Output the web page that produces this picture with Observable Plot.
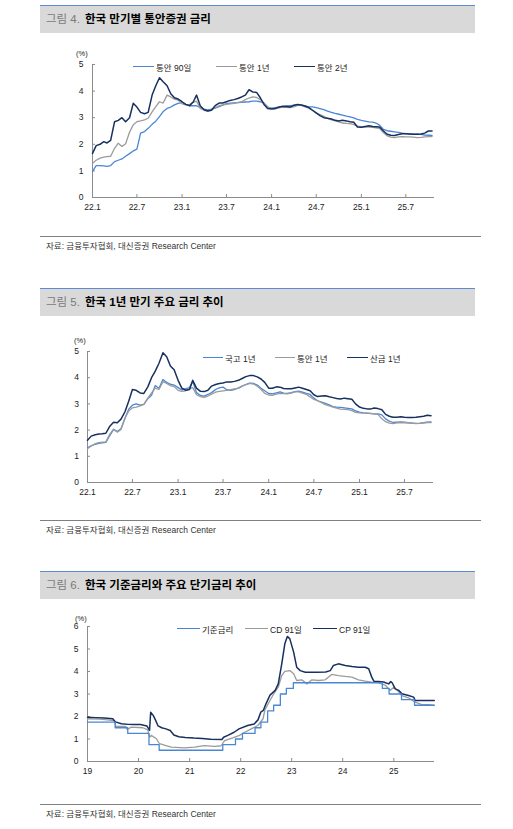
<!DOCTYPE html>
<html><head><meta charset="utf-8">
<script src="https://cdn.jsdelivr.net/npm/d3@7"></script>
<script src="https://cdn.jsdelivr.net/npm/@observablehq/plot@0.6"></script>
<style>
body{margin:0;background:#fff;width:513px;height:829px;position:relative;overflow:hidden;font-family:"Liberation Sans","Noto Sans CJK KR",sans-serif;}
.bar{position:absolute;left:40px;width:435px;height:27px;background:#d9d9d9;border-top:1px solid #5b8bd0;line-height:27px;font-size:11.5px;white-space:nowrap;}
.bar .n{color:#7a7a7a;padding-left:6px;margin-right:5px;}
.bar .t{color:#000;font-weight:bold;}
.src{position:absolute;left:40px;width:435px;border-top:1px solid #7f7f7f;font-size:8.5px;color:#333;padding-left:6px;padding-top:2px;white-space:nowrap;}
.lg{position:absolute;font-size:8.5px;color:#222;white-space:nowrap;transform:translateY(-50%);}
.sw{position:absolute;height:0;}
.unit{position:absolute;font-size:7.5px;color:#222;transform:translateY(-50%);}
</style></head><body>
<script>
// ---------- Data ----------
// Chart 1 & 2: semi-monthly samples from 2022-01-01 (1st and 16th of each month)
const mmb90 = [0.98,1.2,1.2,1.19,1.17,1.2,1.35,1.4,1.45,1.55,1.65,1.75,
  1.82,2.42,2.48,2.6,2.75,2.87,3.04,3.23,3.35,3.4,3.48,3.54,
  3.57,3.5,3.45,3.45,3.45,3.38,3.32,3.29,3.32,3.36,3.42,3.47,
  3.53,3.55,3.56,3.57,3.58,3.59,3.6,3.62,3.62,3.6,3.55,3.4,
  3.36,3.38,3.4,3.42,3.44,3.45,3.46,3.47,3.47,3.44,3.41,3.41,
  3.38,3.34,3.3,3.25,3.2,3.16,3.13,3.1,3.06,3.03,2.99,2.94,
  2.9,2.87,2.84,2.83,2.8,2.72,2.56,2.51,2.49,2.47,2.45,2.42,
  2.4,2.39,2.38,2.38,2.37,2.35,2.34,2.33];
const mmb1y = [1.29,1.4,1.48,1.52,1.54,1.55,1.85,2.04,1.92,2.02,2.45,2.73,
  2.85,2.88,2.92,2.98,3.22,3.42,3.6,3.55,3.85,3.78,3.7,3.66,
  3.52,3.48,3.5,3.58,3.62,3.35,3.28,3.25,3.3,3.37,3.45,3.48,
  3.5,3.52,3.54,3.57,3.6,3.68,3.74,3.78,3.76,3.68,3.55,3.4,
  3.34,3.33,3.37,3.4,3.39,3.38,3.41,3.46,3.46,3.41,3.36,3.27,
  3.17,3.12,3.05,2.97,2.92,2.88,2.84,2.8,2.79,2.78,2.74,2.68,
  2.66,2.65,2.65,2.64,2.62,2.6,2.43,2.32,2.27,2.25,2.28,2.29,
  2.28,2.28,2.27,2.25,2.26,2.28,2.29,2.29];
const mmb2y = [1.66,1.95,2.0,2.1,2.05,2.15,2.85,2.9,3.0,2.85,3.0,3.54,
  3.4,3.2,3.15,3.2,3.85,4.2,4.5,4.35,4.2,3.9,3.75,3.7,
  3.6,3.5,3.45,3.6,3.85,3.45,3.3,3.25,3.28,3.45,3.55,3.55,
  3.6,3.65,3.68,3.72,3.78,3.85,4.05,3.97,3.95,3.75,3.5,3.35,
  3.33,3.35,3.4,3.43,3.42,3.4,3.47,3.5,3.48,3.44,3.38,3.28,
  3.18,3.08,3.0,2.98,2.95,2.9,2.88,2.9,2.88,2.85,2.83,2.65,
  2.64,2.67,2.7,2.67,2.66,2.65,2.5,2.38,2.34,2.33,2.37,2.4,
  2.4,2.39,2.38,2.38,2.39,2.42,2.5,2.5];
const ktb1y = [1.32,1.4,1.46,1.49,1.51,1.53,1.8,2.02,1.95,2.05,2.45,2.8,
  2.95,3.0,2.95,2.98,3.2,3.33,3.7,3.6,3.93,3.82,3.75,3.72,
  3.62,3.53,3.58,3.62,3.86,3.43,3.32,3.3,3.36,3.43,3.55,3.61,
  3.64,3.54,3.52,3.55,3.6,3.68,3.74,3.79,3.78,3.72,3.6,3.5,
  3.4,3.38,3.42,3.46,3.41,3.4,3.43,3.47,3.49,3.45,3.4,3.36,
  3.22,3.12,3.07,3.02,2.96,2.9,2.88,2.87,2.85,2.83,2.81,2.73,
  2.69,2.66,2.65,2.63,2.62,2.62,2.58,2.43,2.34,2.29,2.3,2.31,
  2.3,2.28,2.27,2.26,2.26,2.28,2.3,2.31];
const kdb1y = [1.61,1.77,1.82,1.85,1.86,1.88,2.15,2.3,2.28,2.42,2.7,3.1,
  3.55,3.52,3.42,3.4,3.65,4.0,4.25,4.55,4.95,4.8,4.45,4.3,
  3.9,3.6,3.52,3.55,3.9,3.6,3.48,3.47,3.52,3.68,3.74,3.78,
  3.8,3.84,3.84,3.86,3.9,3.97,4.04,4.08,4.08,4.03,3.95,3.82,
  3.6,3.6,3.65,3.64,3.59,3.58,3.58,3.61,3.64,3.6,3.55,3.5,
  3.35,3.28,3.3,3.31,3.27,3.24,3.21,3.19,3.22,3.2,3.18,3.0,
  2.88,2.83,2.81,2.81,2.84,2.82,2.78,2.6,2.53,2.49,2.49,2.51,
  2.49,2.48,2.48,2.49,2.51,2.53,2.57,2.55];

// Chart 3
const baseDates = ["2019-01-01","2019-07-18","2019-10-16","2020-03-16","2020-05-28","2021-08-26","2021-11-25","2022-01-14","2022-04-14","2022-05-26","2022-07-13","2022-08-25","2022-10-12","2022-11-24","2023-01-13","2024-10-11","2024-11-28","2025-02-25","2025-05-29","2025-10-17"];
const baseRate = [1.75,1.5,1.25,0.75,0.5,0.75,1.0,1.25,1.5,1.75,2.25,2.5,3.0,3.25,3.5,3.25,3.0,2.75,2.5,2.5];
const cdDates = ["2019-01-01","2019-04-01","2019-07-12","2019-07-22","2019-10-01","2019-10-12","2019-11-10","2020-02-01","2020-03-07","2020-03-21","2020-04-01","2020-05-08","2020-05-30","2020-07-16","2020-08-22","2020-11-25","2021-02-06","2021-04-15","2021-06-28","2021-08-14","2021-09-08","2021-11-06","2021-12-24","2022-01-30","2022-03-18","2022-05-04","2022-06-10","2022-06-24","2022-07-20","2022-08-25","2022-09-27","2022-10-22","2022-11-13","2022-12-19","2023-01-15","2023-02-06","2023-03-14","2023-04-20","2023-05-26","2023-07-12","2023-08-28","2023-10-15","2023-12-01","2024-01-19","2024-03-07","2024-04-23","2024-06-10","2024-07-27","2024-09-13","2024-11-03","2024-12-05","2025-01-01","2025-01-26","2025-02-28","2025-04-16","2025-06-03","2025-07-20","2025-09-05","2025-10-17"];
const cd91 = [1.9,1.88,1.82,1.56,1.56,1.42,1.53,1.5,1.41,1.08,1.16,1.01,0.79,0.71,0.64,0.61,0.64,0.71,0.67,0.7,0.93,1.05,1.16,1.3,1.45,1.6,1.9,2.3,2.6,3.0,3.3,3.82,4.01,4.04,3.9,3.6,3.63,3.45,3.63,3.6,3.63,3.87,3.82,3.78,3.75,3.63,3.57,3.53,3.51,3.38,3.16,3.3,3.16,2.93,2.83,2.64,2.53,2.53,2.49];
const cpDates = ["2019-01-01","2019-03-01","2019-05-01","2019-07-01","2019-07-20","2019-09-01","2019-10-20","2019-12-01","2020-01-15","2020-03-01","2020-03-20","2020-03-28","2020-04-15","2020-05-01","2020-05-20","2020-06-15","2020-07-15","2020-08-15","2020-09-10","2020-10-15","2020-12-01","2021-02-01","2021-04-01","2021-06-01","2021-08-20","2021-09-01","2021-10-01","2021-11-15","2021-12-20","2022-02-20","2022-04-08","2022-05-05","2022-05-25","2022-06-12","2022-07-01","2022-07-30","2022-09-05","2022-09-27","2022-10-22","2022-11-13","2022-12-01","2022-12-19","2023-01-15","2023-02-06","2023-03-03","2023-04-08","2023-07-01","2023-09-01","2023-10-04","2023-10-27","2023-12-01","2024-01-19","2024-03-07","2024-04-23","2024-06-10","2024-07-05","2024-07-27","2024-08-11","2024-09-13","2024-10-19","2024-11-25","2024-12-10","2024-12-20","2025-01-11","2025-02-06","2025-02-28","2025-04-16","2025-05-23","2025-06-03","2025-10-17"];
const cp91 = [1.97,1.95,1.93,1.9,1.76,1.68,1.65,1.64,1.64,1.58,1.38,2.19,2.05,1.85,1.58,1.5,1.45,1.38,1.18,1.1,1.07,1.04,1.02,0.99,0.98,1.08,1.16,1.3,1.45,1.6,1.67,1.85,2.19,2.27,2.56,2.95,3.16,3.45,4.34,5.23,5.56,5.45,4.86,4.19,4.04,3.97,3.97,3.98,4.04,4.27,4.34,4.27,4.22,4.19,4.19,4.12,3.75,3.57,3.56,3.53,3.45,3.55,3.5,3.23,3.16,3.01,2.93,2.86,2.71,2.71];

const ticks1 = ["2022-01-01","2022-07-01","2023-01-01","2023-07-01","2024-01-01","2024-07-01","2025-01-01","2025-07-01"];
const ticks3 = ["2019-01-01","2020-01-01","2021-01-01","2022-01-01","2023-01-01","2024-01-01","2025-01-01"];

const C_BLUE = "#4a86d6", C_GRAY = "#9b9b9b", C_NAVY = "#17305e";
const FONT = '"Liberation Sans","Noto Sans CJK KR",sans-serif';

// semi-monthly date grid (x categories) for charts 1 & 2
const grid = mmb90.map((_, i) => new Date(Date.UTC(2022, Math.floor(i / 2), i % 2 ? 16 : 1)));
const toRows = (dates, vals) => vals.map((v, i) => ({date: dates[i] instanceof Date ? dates[i] : new Date(dates[i]), v}));

function chart(o) {
  const mt = o.fTop - o.svgTop, mb = 24;
  const h = mt + (o.fBottom - o.fTop) + mb;
  const xd = o.xDomain.map(d => new Date(d));
  const p = Plot.plot({
    width: 513, height: h,
    marginLeft: o.fLeft, marginRight: 513 - o.fRight, marginTop: mt, marginBottom: mb,
    style: {fontFamily: FONT, fontSize: "8.5px", color: "#222", background: "transparent", overflow: "visible"},
    x: {type: "utc", domain: xd},
    y: {domain: o.yDomain},
    marks: [
      Plot.ruleY([o.yDomain[0]], {stroke: "#8c8c8c"}),
      Plot.ruleX([xd[0]], {stroke: "#8c8c8c"}),
      Plot.axisY({ticks: d3.range(o.yDomain[0], o.yDomain[1] + 1), tickFormat: d => String(d), tickSize: -3, tickPadding: o.yPad + 3, stroke: "#8c8c8c", label: null}),
      Plot.axisX({ticks: o.xTicks.map(d => new Date(d)), tickFormat: o.xFormat, tickSize: -3, tickPadding: 9, stroke: "#8c8c8c", label: null}),
      ...o.series.map(s => Plot.line(s.rows, {x: "date", y: "v", stroke: s.color, strokeWidth: s.w || 1.3, curve: s.curve || "linear"}))
    ]
  });
  p.style.position = "absolute"; p.style.left = "0px"; p.style.top = o.svgTop + "px";
  document.body.append(p);
}

function header(top, num, text) {
  const d = document.createElement("div");
  d.className = "bar"; d.style.top = top + "px";
  d.innerHTML = `<span class="n">${num}</span><span class="t">${text}</span>`;
  document.body.append(d);
}
function source(top) {
  const d = document.createElement("div");
  d.className = "src"; d.style.top = top + "px";
  d.textContent = "자료: 금융투자협회, 대신증권 Research Center";
  document.body.append(d);
}
function legend(y, items) {
  items.forEach(it => {
    const s = document.createElement("div");
    s.className = "sw";
    s.style.left = it.x0 + "px"; s.style.width = (it.x1 - it.x0) + "px"; s.style.top = (y - 0.75) + "px";
    s.style.borderTop = `1.5px solid ${it.color}`;
    document.body.append(s);
    const t = document.createElement("div");
    t.className = "lg"; t.style.left = (it.x1 + 2) + "px"; t.style.top = y + "px";
    t.textContent = it.label;
    document.body.append(t);
  });
}
function unit(x, y) {
  const d = document.createElement("div");
  d.className = "unit"; d.style.left = x + "px"; d.style.top = y + "px"; d.textContent = "(%)";
  document.body.append(d);
}
const fmtYM = d => `${String(d.getUTCFullYear()).slice(2)}.${d.getUTCMonth() + 1}`;
const fmtY = d => String(d.getUTCFullYear()).slice(2);

// ---------- Figure 4 ----------
header(5, "그림 4.", "한국 만기별 통안증권 금리");
chart({svgTop: 44, fLeft: 92, fRight: 434, fTop: 64, fBottom: 197,
  xDomain: ["2022-01-01", "2025-10-26"], yDomain: [0, 5], yPad: 9, xTicks: ticks1, xFormat: fmtYM,
  series: [
    {rows: toRows(grid, mmb90), color: C_BLUE},
    {rows: toRows(grid, mmb1y), color: C_GRAY},
    {rows: toRows(grid, mmb2y), color: C_NAVY, w: 1.5}
  ]});
unit(76, 53);
legend(67, [
  {x0: 133, x1: 154, color: C_BLUE, label: "통안 90일"},
  {x0: 216, x1: 237, color: C_GRAY, label: "통안 1년"},
  {x0: 294, x1: 315, color: C_NAVY, label: "통안 2년"}
]);
source(236);

// ---------- Figure 5 ----------
header(288, "그림 5.", "한국 1년 만기 주요 금리 추이");
chart({svgTop: 331, fLeft: 87, fRight: 433, fTop: 351, fBottom: 482,
  xDomain: ["2022-01-01", "2025-10-26"], yDomain: [0, 5], yPad: 8.5, xTicks: ticks1, xFormat: fmtYM,
  series: [
    {rows: toRows(grid, ktb1y), color: C_BLUE},
    {rows: toRows(grid, mmb1y), color: C_GRAY},
    {rows: toRows(grid, kdb1y), color: C_NAVY, w: 1.5}
  ]});
unit(74, 340);
legend(358, [
  {x0: 203, x1: 223, color: C_BLUE, label: "국고 1년"},
  {x0: 275, x1: 295, color: C_GRAY, label: "통안 1년"},
  {x0: 347, x1: 368, color: C_NAVY, label: "산금 1년"}
]);
source(520);

// ---------- Figure 6 ----------
header(571, "그림 6.", "한국 기준금리와 주요 단기금리 추이");
chart({svgTop: 606, fLeft: 87, fRight: 434, fTop: 626, fBottom: 761,
  xDomain: ["2019-01-01", "2025-10-19"], yDomain: [0, 6], yPad: 9, xTicks: ticks3, xFormat: fmtY,
  series: [
    {rows: toRows(cdDates, cd91), color: C_GRAY},
    {rows: toRows(cpDates, cp91), color: C_NAVY, w: 1.5},
    {rows: toRows(baseDates, baseRate), color: C_BLUE, curve: "step-after"}
  ]});
unit(75, 618);
legend(629, [
  {x0: 177, x1: 200, color: C_BLUE, label: "기준금리"},
  {x0: 245, x1: 268, color: C_GRAY, label: "CD 91일"},
  {x0: 313, x1: 337, color: C_NAVY, label: "CP 91일"}
]);
source(804);
</script>
</body></html>
